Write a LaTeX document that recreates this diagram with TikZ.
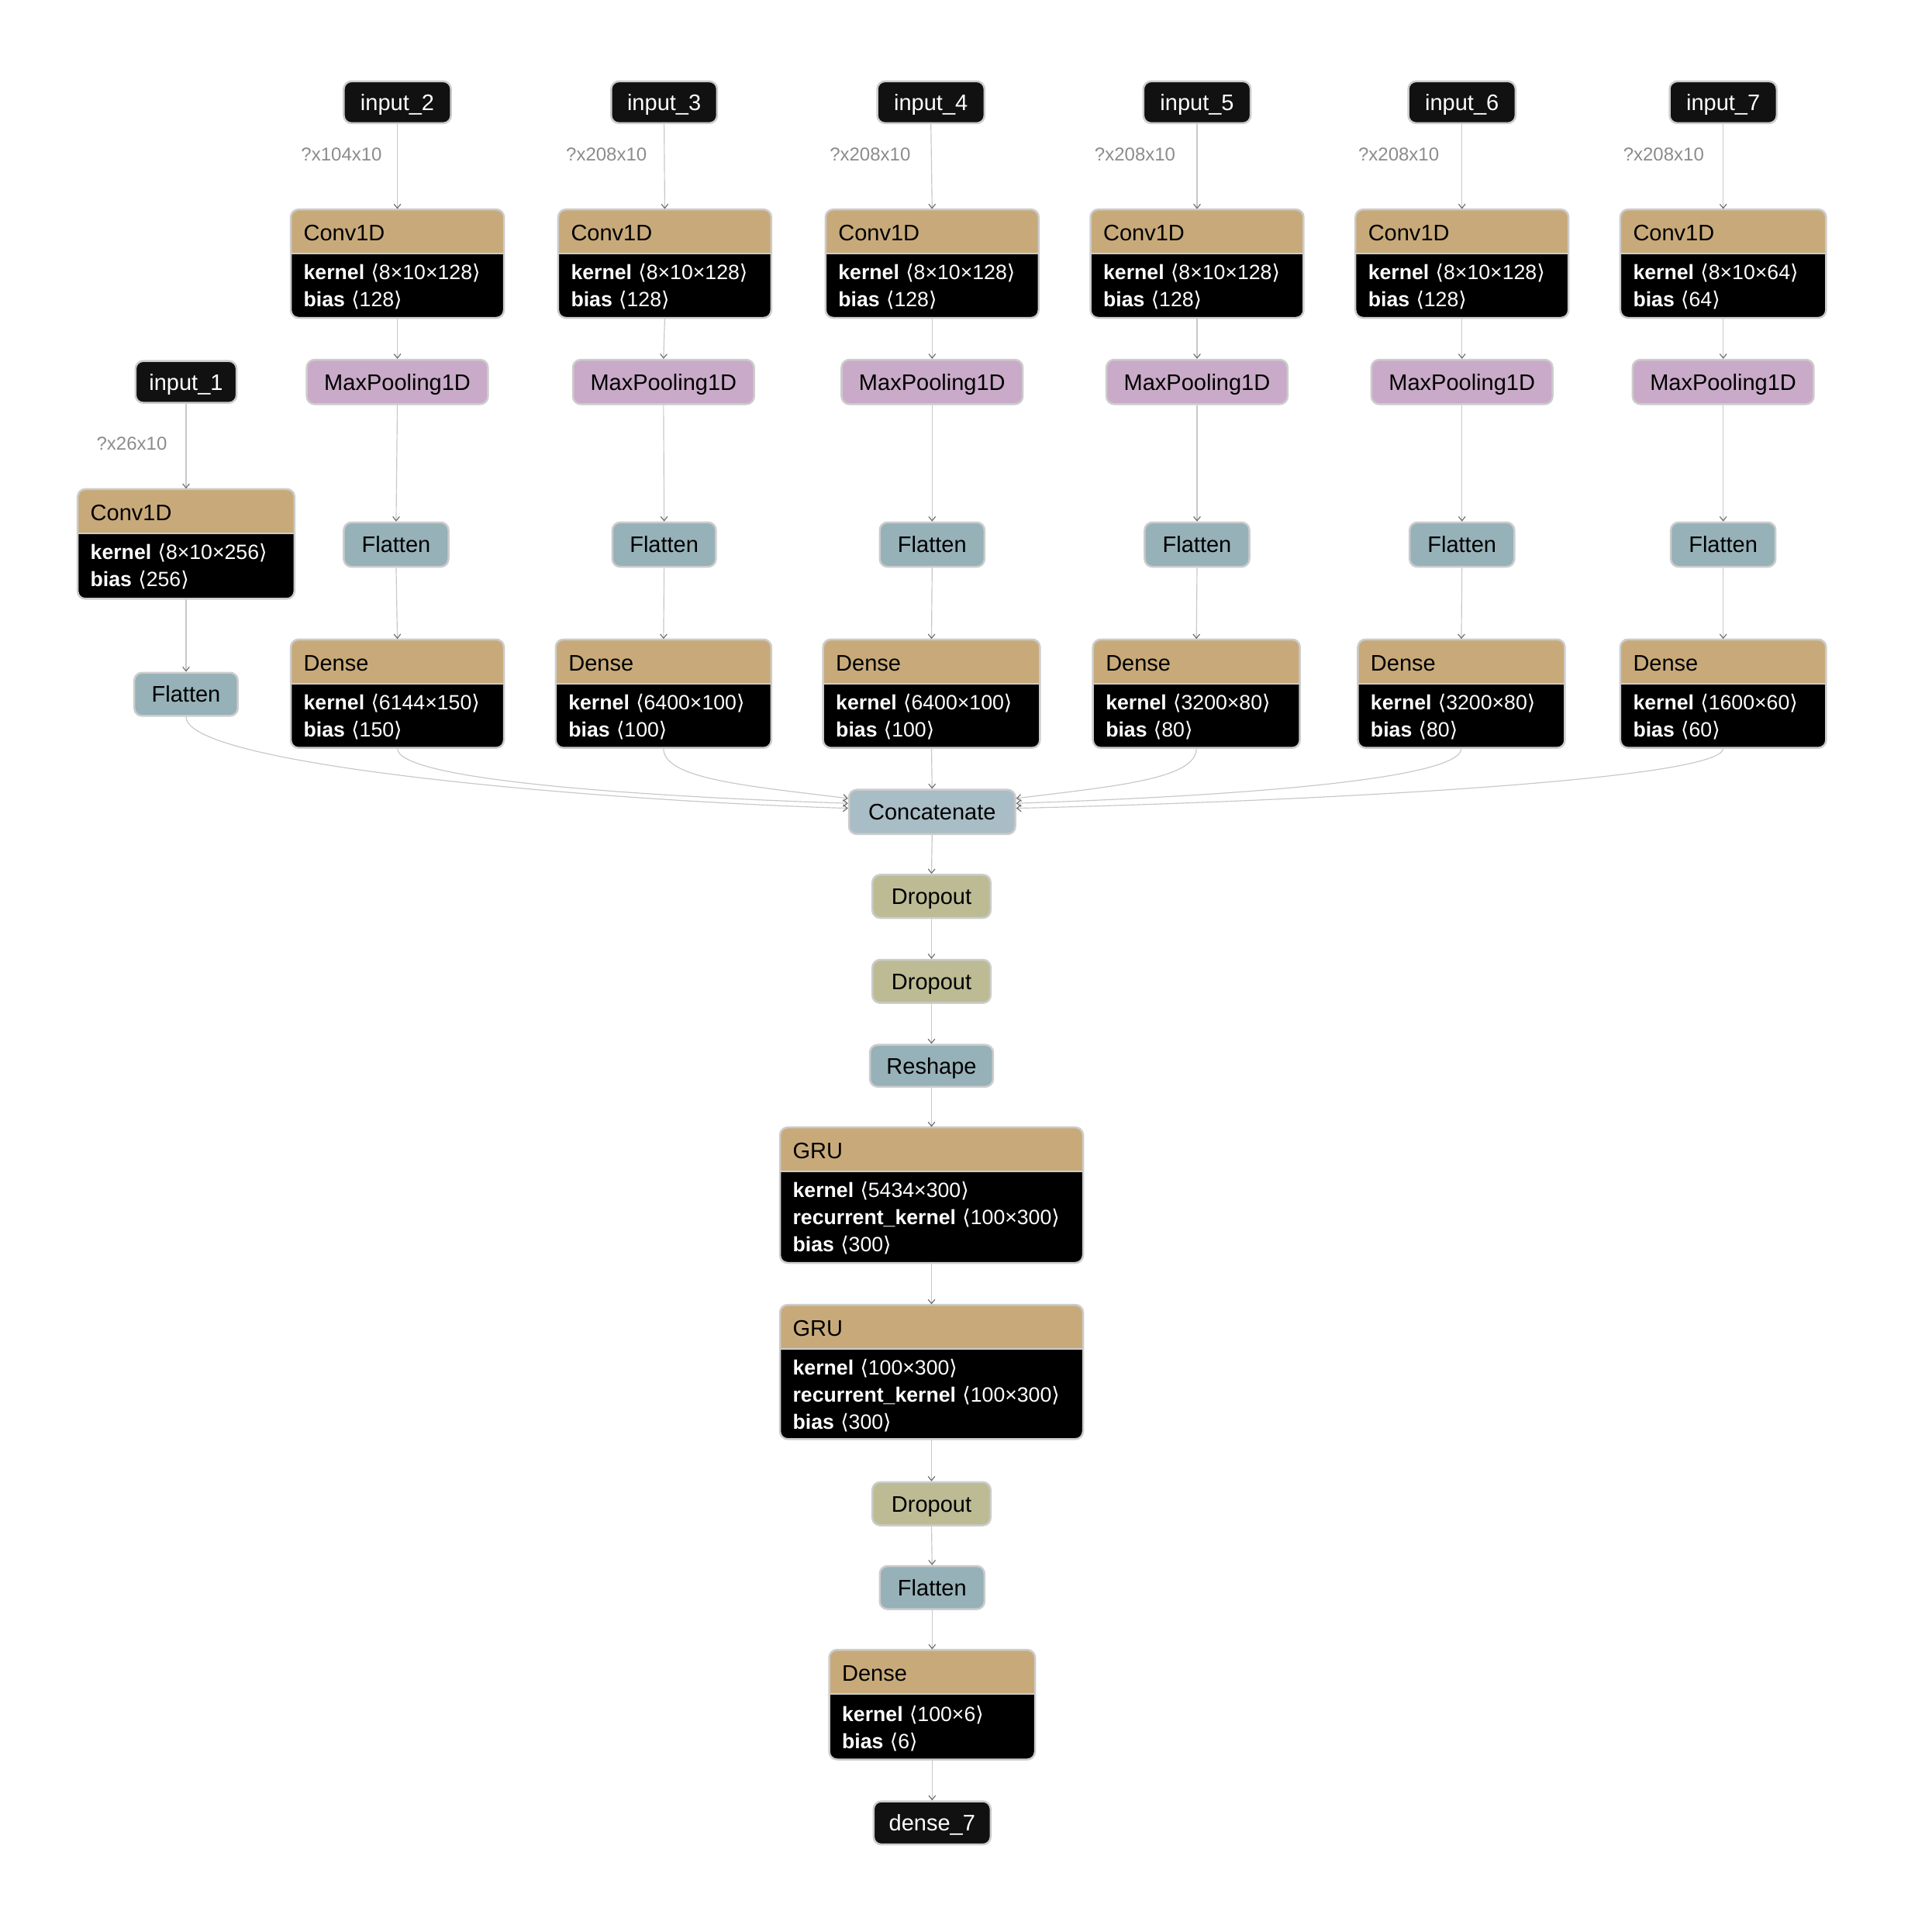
\documentclass[tikz,border=0pt]{standalone}
\usepackage{fontspec}
\setmainfont{Liberation Sans}
\newfontfamily\djv{DejaVu Sans}
\usetikzlibrary{fit,arrows.meta,calc}

\definecolor{hdr}{RGB}{200,170,122}
\definecolor{pool}{RGB}{201,170,200}
\definecolor{flat}{RGB}{150,177,184}
\definecolor{concat}{RGB}{168,189,197}
\definecolor{drop}{RGB}{188,187,148}
\definecolor{inpc}{RGB}{17,17,17}
\definecolor{bord}{RGB}{204,204,204}
\definecolor{edgec}{RGB}{200,200,200}
\definecolor{tipc}{RGB}{110,110,110}
\definecolor{shp}{RGB}{140,140,140}

\def\rc{3pt}
\def\bw{0.75pt}

\tikzset{
  ttl/.style={inner sep=0pt, font=\fontsize{8.7}{10}\selectfont, text height=6.2pt, text depth=0pt},
  bodytxt/.style={inner sep=0pt, font=\fontsize{8}{9.5}\selectfont, text=white, text height=5.7pt, text depth=0pt, anchor=west},
  shapetxt/.style={inner sep=0pt, font=\fontsize{7.2}{9}\selectfont, text=shp, text height=5.2pt, text depth=0pt, anchor=west},
  conn/.style={draw=edgec, line width=0.35pt, -{Straight Barb[length=1.6pt,width=2.6pt,color=tipc]}},
}

% simple node: name, fill, text colour, x1, y1, x2, y2, text
\newcommand\mysimple[8]{%
  \node[draw=bord, line width=\bw, fill=#2, rounded corners=\rc, fit={(#4,#5) (#6,#7)}, inner sep=0pt] (#1) {};
  \node[ttl, text=#3] at (#1.center) {#8};
}
% layer node: name, x1, y1, x2, y2, title
\newcommand\mylayer[6]{%
  \node[fit={(#2,#3) (#4,#5)}, inner sep=0pt] (#1) {};
  \fill[black, rounded corners=\rc] (#2,#3) rectangle (#4,#5);
  \begin{scope}
    \clip (#2,#3) rectangle (#4,#3+36);
    \fill[hdr, rounded corners=\rc] (#2,#3) rectangle (#4,#5);
  \end{scope}
  \draw[bord, line width=0.6pt] (#2,#3+36) -- (#4,#3+36);
  \draw[bord, line width=\bw, rounded corners=\rc] (#2,#3) rectangle (#4,#5);
  \node[ttl, anchor=west] at (#2+10,#3+19) {#6};
}
% attribute line: x, y, key, value
\newcommand\kv[4]{\node[bodytxt] at (#1,#2) {\textbf{#3}\hspace{2.5pt}{\djv ⟨}#4{\djv ⟩}};}

\begin{document}
\begin{tikzpicture}[x=0.4767pt,y=-0.4767pt]
\useasboundingbox[fill=white] (0,0) rectangle (1568,1550.4);

% ---------- inputs ----------
\mysimple{i2}{inpc}{white}{279}{66}{366}{100}{input\_2}
\mysimple{i3}{inpc}{white}{496}{66}{582}{100}{input\_3}
\mysimple{i4}{inpc}{white}{712}{66}{799}{100}{input\_4}
\mysimple{i5}{inpc}{white}{928}{66}{1015}{100}{input\_5}
\mysimple{i6}{inpc}{white}{1143}{66}{1230}{100}{input\_6}
\mysimple{i7}{inpc}{white}{1355}{66}{1442}{100}{input\_7}
\mysimple{i1}{inpc}{white}{110}{293}{192}{327}{input\_1}

% ---------- shape labels ----------
\node[shapetxt] at (244,125) {?x104x10};
\node[shapetxt] at (459,125) {?x208x10};
\node[shapetxt] at (673,125) {?x208x10};
\node[shapetxt] at (888,125) {?x208x10};
\node[shapetxt] at (1102,125) {?x208x10};
\node[shapetxt] at (1317,125) {?x208x10};
\node[shapetxt] at (78,360) {?x26x10};

% ---------- Conv1D ----------
\mylayer{c2}{236}{170}{409}{258}{Conv1D}
\kv{246}{221}{kernel}{8×10×128}\kv{246}{243}{bias}{128}
\mylayer{c3}{453}{170}{626}{258}{Conv1D}
\kv{463}{221}{kernel}{8×10×128}\kv{463}{243}{bias}{128}
\mylayer{c4}{670}{170}{843}{258}{Conv1D}
\kv{680}{221}{kernel}{8×10×128}\kv{680}{243}{bias}{128}
\mylayer{c5}{885}{170}{1058}{258}{Conv1D}
\kv{895}{221}{kernel}{8×10×128}\kv{895}{243}{bias}{128}
\mylayer{c6}{1100}{170}{1273}{258}{Conv1D}
\kv{1110}{221}{kernel}{8×10×128}\kv{1110}{243}{bias}{128}
\mylayer{c7}{1315}{170}{1482}{258}{Conv1D}
\kv{1325}{221}{kernel}{8×10×64}\kv{1325}{243}{bias}{64}
\mylayer{c1}{63}{397}{239}{486}{Conv1D}
\kv{73}{448}{kernel}{8×10×256}\kv{73}{470}{bias}{256}

% ---------- MaxPooling1D ----------
\mysimple{p2}{pool}{black}{249}{292}{396}{328}{MaxPooling1D}
\mysimple{p3}{pool}{black}{465}{292}{612}{328}{MaxPooling1D}
\mysimple{p4}{pool}{black}{683}{292}{830}{328}{MaxPooling1D}
\mysimple{p5}{pool}{black}{898}{292}{1045}{328}{MaxPooling1D}
\mysimple{p6}{pool}{black}{1113}{292}{1260}{328}{MaxPooling1D}
\mysimple{p7}{pool}{black}{1325}{292}{1472}{328}{MaxPooling1D}

% ---------- Flatten ----------
\mysimple{f2}{flat}{black}{279}{424}{364}{460}{Flatten}
\mysimple{f3}{flat}{black}{497}{424}{581}{460}{Flatten}
\mysimple{f4}{flat}{black}{714}{424}{799}{460}{Flatten}
\mysimple{f5}{flat}{black}{929}{424}{1014}{460}{Flatten}
\mysimple{f6}{flat}{black}{1144}{424}{1229}{460}{Flatten}
\mysimple{f7}{flat}{black}{1356}{424}{1441}{460}{Flatten}
\mysimple{f1}{flat}{black}{109}{546}{193}{581}{Flatten}

% ---------- Dense ----------
\mylayer{d2}{236}{519}{409}{607}{Dense}
\kv{246}{570}{kernel}{6144×150}\kv{246}{592}{bias}{150}
\mylayer{d3}{451}{519}{626}{607}{Dense}
\kv{461}{570}{kernel}{6400×100}\kv{461}{592}{bias}{100}
\mylayer{d4}{668}{519}{844}{607}{Dense}
\kv{678}{570}{kernel}{6400×100}\kv{678}{592}{bias}{100}
\mylayer{d5}{887}{519}{1055}{607}{Dense}
\kv{897}{570}{kernel}{3200×80}\kv{897}{592}{bias}{80}
\mylayer{d6}{1102}{519}{1270}{607}{Dense}
\kv{1112}{570}{kernel}{3200×80}\kv{1112}{592}{bias}{80}
\mylayer{d7}{1315}{519}{1482}{607}{Dense}
\kv{1325}{570}{kernel}{1600×60}\kv{1325}{592}{bias}{60}

% ---------- trunk ----------
\mysimple{cc}{concat}{black}{689}{641}{824}{677}{Concatenate}
\mysimple{dr1}{drop}{black}{708}{710}{804}{745}{Dropout}
\mysimple{dr2}{drop}{black}{708}{779}{804}{814}{Dropout}
\mysimple{rs}{flat}{black}{706}{848}{806}{882}{Reshape}
\mylayer{g1}{633}{915}{879}{1025}{GRU}
\kv{643}{966}{kernel}{5434×300}\kv{643}{988}{recurrent\_kernel}{100×300}\kv{643}{1010}{bias}{300}
\mylayer{g2}{633}{1059}{879}{1168}{GRU}
\kv{643}{1110}{kernel}{100×300}\kv{643}{1132}{recurrent\_kernel}{100×300}\kv{643}{1154}{bias}{300}
\mysimple{dr3}{drop}{black}{708}{1203}{804}{1238}{Dropout}
\mysimple{fl}{flat}{black}{714}{1271}{799}{1306}{Flatten}
\mylayer{dn}{673}{1339}{840}{1428}{Dense}
\kv{683}{1391}{kernel}{100×6}\kv{683}{1413}{bias}{6}
\mysimple{out}{inpc}{white}{709}{1462}{804}{1497}{dense\_7}

% ---------- connectors ----------
\foreach \k in {2,...,7}{
  \draw[conn] (i\k.south) -- (c\k.north);
  \draw[conn] (c\k.south) -- (p\k.north);
  \draw[conn] (p\k.south) -- (f\k.north);
  \draw[conn] (f\k.south) -- (d\k.north);
}
\draw[conn] (i1.south) -- (c1.north);
\draw[conn] (c1.south) -- (f1.north);

\draw[conn] (f1.south) .. controls +(0,40) and +(-200,-6) .. ($(cc.west)+(0,-3)$);
\draw[conn] (d2.south) .. controls +(0,25) and +(-180,-6) .. ($(cc.west)+(0,-7)$);
\draw[conn] (d3.south) .. controls +(0,25) and +(-80,-10) .. ($(cc.west)+(0,-11)$);
\draw[conn] (d4.south) -- (cc.north);
\draw[conn] (d5.south) .. controls +(0,25) and +(80,-10) .. ($(cc.east)+(0,-11)$);
\draw[conn] (d6.south) .. controls +(0,25) and +(180,-6) .. ($(cc.east)+(0,-7)$);
\draw[conn] (d7.south) .. controls +(0,25) and +(250,-6) .. ($(cc.east)+(0,-3)$);

\draw[conn] (cc.south) -- (dr1.north);
\draw[conn] (dr1.south) -- (dr2.north);
\draw[conn] (dr2.south) -- (rs.north);
\draw[conn] (rs.south) -- (g1.north);
\draw[conn] (g1.south) -- (g2.north);
\draw[conn] (g2.south) -- (dr3.north);
\draw[conn] (dr3.south) -- (fl.north);
\draw[conn] (fl.south) -- (dn.north);
\draw[conn] (dn.south) -- (out.north);
\end{tikzpicture}
\end{document}
